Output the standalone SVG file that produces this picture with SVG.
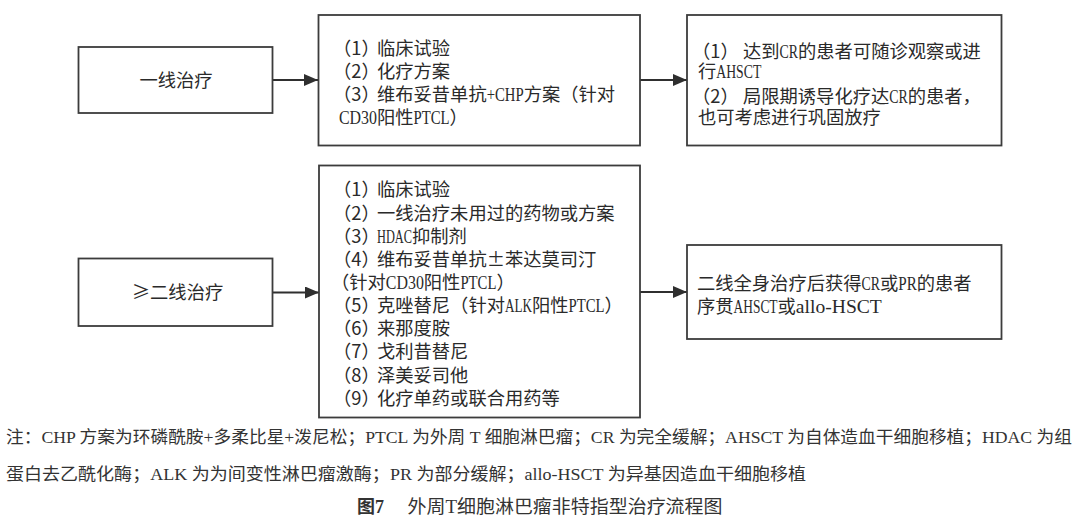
<svg xmlns="http://www.w3.org/2000/svg" width="1080" height="524" viewBox="0 0 1080 524">
<style>
.box{fill:#fff;stroke:#3c3c3c;stroke-width:1.8}
.t{font-family:"Noto Sans CJK SC","Noto Sans CJK JP",sans-serif;font-size:18.3px;fill:#2a2a2a}
.l{font-family:"Liberation Serif","Times New Roman",serif;font-size:19px}
.c{text-anchor:middle}
.edge{stroke:#2f2f2f;stroke-width:1.8;fill:none}
.n{font-family:"Liberation Serif","Noto Sans CJK SC",serif;font-size:17px;fill:#333}
.cap{font-family:"Liberation Serif","Noto Sans CJK SC",serif;font-size:18px;fill:#333}
</style>
<defs>
<marker id="arr" viewBox="0 0 14 12" refX="14" refY="6" markerWidth="14" markerHeight="12" markerUnits="userSpaceOnUse" orient="auto">
<path d="M0,0 L14,6 L0,12 z" fill="#2f2f2f"/>
</marker>
</defs>
<rect width="1080" height="524" fill="#fff"/>

<g id="connectors">
<line class="edge" x1="272" y1="80" x2="318" y2="80" marker-end="url(#arr)"/>
<line class="edge" x1="640" y1="80" x2="687" y2="80" marker-end="url(#arr)"/>
<line class="edge" x1="272.5" y1="292.5" x2="319" y2="292.5" marker-end="url(#arr)"/>
<line class="edge" x1="640" y1="292" x2="687" y2="292" marker-end="url(#arr)"/>
</g>

<g id="node-first-line">
<rect class="box" x="78.5" y="47" width="194" height="66"/>
<text class="t c" x="176" y="87">一线治疗</text>
</g>

<g id="node-first-options">
<rect class="box" x="318.5" y="15" width="321.5" height="130.5"/>
<text class="t"><tspan x="333" y="54.5">（1）</tspan><tspan x="377" y="54.5">临床试验</tspan><tspan x="333" y="77.7">（2）</tspan><tspan x="377" y="77.7">化疗方案</tspan><tspan x="333" y="100.9">（3）</tspan><tspan x="377" y="100.9">维布妥昔单抗</tspan><tspan class="l" textLength="37" lengthAdjust="spacingAndGlyphs">+CHP</tspan><tspan>方案（针对</tspan><tspan class="l" x="339" y="124.1" textLength="38" lengthAdjust="spacingAndGlyphs">CD30</tspan><tspan>阳性</tspan><tspan class="l" textLength="36" lengthAdjust="spacingAndGlyphs">PTCL</tspan><tspan>）</tspan></text>
</g>

<g id="node-first-followup">
<rect class="box" x="687" y="15" width="314.5" height="130.5"/>
<text class="t"><tspan x="692" y="57.5">（1）</tspan><tspan x="743" y="57.5">达到</tspan><tspan class="l" textLength="18.5" lengthAdjust="spacingAndGlyphs">CR</tspan><tspan>的患者可随诊观察或进</tspan><tspan x="698" y="78">行</tspan><tspan class="l" textLength="45" lengthAdjust="spacingAndGlyphs">AHSCT</tspan><tspan x="692" y="102.5">（2）</tspan><tspan x="743" y="102.5">局限期诱导化疗达</tspan><tspan class="l" textLength="18.5" lengthAdjust="spacingAndGlyphs">CR</tspan><tspan>的患者，</tspan><tspan x="698" y="124">也可考虑进行巩固放疗</tspan></text>
</g>

<g id="node-second-line">
<rect class="box" x="78.5" y="258.5" width="194" height="67.5"/>
<text class="t c" x="177.5" y="299">≥二线治疗</text>
</g>

<g id="node-second-options">
<rect class="box" x="319" y="165.5" width="321" height="252"/>
<text class="t"><tspan x="333" y="196.3">（1）</tspan><tspan x="377" y="196.3">临床试验</tspan><tspan x="333" y="219.5">（2）</tspan><tspan x="377" y="219.5">一线治疗未用过的药物或方案</tspan><tspan x="333" y="242.6">（3）</tspan><tspan class="l" x="377" y="242.6" textLength="35" lengthAdjust="spacingAndGlyphs">HDAC</tspan><tspan>抑制剂</tspan><tspan x="333" y="265.8">（4）</tspan><tspan x="377" y="265.8">维布妥昔单抗±苯达莫司汀</tspan><tspan x="331" y="288.9">（针对</tspan><tspan class="l" textLength="38" lengthAdjust="spacingAndGlyphs">CD30</tspan><tspan>阳性</tspan><tspan class="l" textLength="36" lengthAdjust="spacingAndGlyphs">PTCL</tspan><tspan>）</tspan><tspan x="333" y="312.1">（5）</tspan><tspan x="377" y="312.1">克唑替尼（针对</tspan><tspan class="l" textLength="27" lengthAdjust="spacingAndGlyphs">ALK</tspan><tspan>阳性</tspan><tspan class="l" textLength="36" lengthAdjust="spacingAndGlyphs">PTCL</tspan><tspan>）</tspan><tspan x="333" y="335.2">（6）</tspan><tspan x="377" y="335.2">来那度胺</tspan><tspan x="333" y="358.4">（7）</tspan><tspan x="377" y="358.4">戈利昔替尼</tspan><tspan x="333" y="381.5">（8）</tspan><tspan x="377" y="381.5">泽美妥司他</tspan><tspan x="333" y="404.7">（9）</tspan><tspan x="377" y="404.7">化疗单药或联合用药等</tspan></text>
</g>

<g id="node-second-followup">
<rect class="box" x="687" y="245" width="314.5" height="94"/>
<text class="t"><tspan x="697" y="289.7">二线全身治疗后获得</tspan><tspan class="l" textLength="18.5" lengthAdjust="spacingAndGlyphs">CR</tspan><tspan>或</tspan><tspan class="l" textLength="18.5" lengthAdjust="spacingAndGlyphs">PR</tspan><tspan>的患者</tspan><tspan x="697" y="312.7">序贯</tspan><tspan class="l" textLength="44" lengthAdjust="spacingAndGlyphs">AHSCT</tspan><tspan>或</tspan><tspan class="l" textLength="86" lengthAdjust="spacingAndGlyphs">allo-HSCT</tspan></text>
</g>

<g id="notes">
<text class="n" x="6" y="443" textLength="1066" lengthAdjust="spacingAndGlyphs">注：CHP 方案为环磷酰胺+多柔比星+泼尼松；PTCL 为外周 T 细胞淋巴瘤；CR 为完全缓解；AHSCT 为自体造血干细胞移植；HDAC 为组</text>
<text class="n" x="6" y="480" textLength="800" lengthAdjust="spacingAndGlyphs">蛋白去乙酰化酶；ALK 为为间变性淋巴瘤激酶；PR 为部分缓解；allo-HSCT 为异基因造血干细胞移植</text>
<text class="cap" x="357" y="513" font-weight="bold">图7</text>
<text class="cap" x="407.5" y="513" textLength="315" lengthAdjust="spacingAndGlyphs">外周T细胞淋巴瘤非特指型治疗流程图</text>
</g>
</svg>
